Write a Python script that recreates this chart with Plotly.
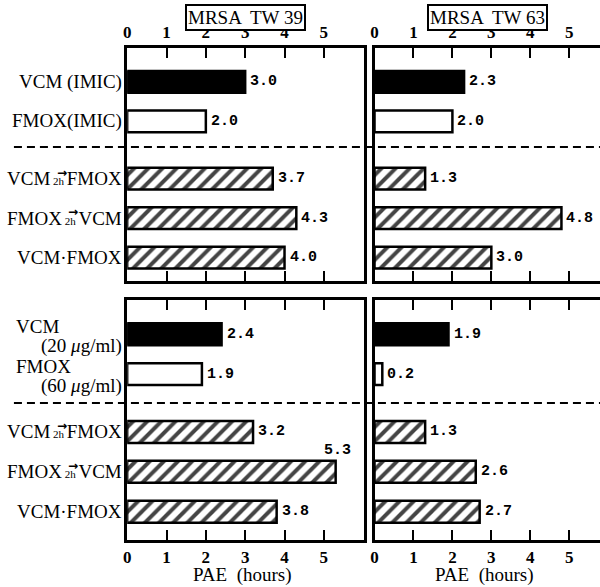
import plotly.graph_objects as go

# ---------------- data ----------------
strains = ["MRSA  TW 39", "MRSA  TW 63"]
top_labels = ["VCM (IMIC)", "FMOX(IMIC)", "VCM→FMOX", "FMOX→VCM", "VCM·FMOX"]
bottom_labels = ["VCM|(20 <i>μ</i>g/ml)", "FMOX|(60 <i>μ</i>g/ml)", "VCM→FMOX", "FMOX→VCM", "VCM·FMOX"]
tw39_top = [3.0, 2.0, 3.7, 4.3, 4.0]
tw63_top = [2.3, 2.0, 1.3, 4.8, 3.0]
tw39_bottom = [2.4, 1.9, 3.2, 5.3, 3.8]
tw63_bottom = [1.9, 0.2, 1.3, 2.6, 2.7]
bar_kinds = ["solid", "open", "hatched", "hatched", "hatched"]
x_ticks = [0, 1, 2, 3, 4, 5]
axis_title = "PAE  (hours)"

# ---------------- layout helpers ----------------
W, H = 600, 587
def px(x):
    return x / W
def py(y):
    return 1 - y / H

GAP = 0.45
pos = [i + (GAP if i >= 2 else 0) for i in range(5)]
dash_y = (pos[1] + pos[2]) / 2

SERIF = "Liberation Serif, Times New Roman, serif"
MONO = "Liberation Mono, Courier New, monospace"

xdom_left = [px(124), px(362)]
xdom_right = [px(373), 1.0]
ydom_top = [py(281), py(48)]
ydom_bot = [py(540), py(300)]
xr_left = [0, 6.01]
xr_right = [0, 5.79]
yr_top = [5.04, -0.86]
yr_bot = [5.16, -0.86]

panels = [
    dict(xa="x", ya="y", vals=tw39_top, labels=top_labels, xd=xdom_left, yd=ydom_top, xr=xr_left, yr=yr_top, left=True, top=True, dshift=-0.08),
    dict(xa="x2", ya="y2", vals=tw63_top, labels=None, xd=xdom_right, yd=ydom_top, xr=xr_right, yr=yr_top, left=False, top=True, dshift=0),
    dict(xa="x3", ya="y3", vals=tw39_bottom, labels=bottom_labels, xd=xdom_left, yd=ydom_bot, xr=xr_left, yr=yr_bot, left=True, top=False, dshift=0),
    dict(xa="x4", ya="y4", vals=tw63_bottom, labels=None, xd=xdom_right, yd=ydom_bot, xr=xr_right, yr=yr_bot, left=False, top=False, dshift=0),
]

fill = {"solid": "black", "open": "white", "hatched": "white"}
shape = {"solid": "", "open": "", "hatched": "/"}

# Times-like character widths (em) for positioning arrow above "2h"
CW = {"F": .556, "M": .889, "O": .722, "X": .722, "V": .722, "C": .667}
def tw(s, size):
    return sum(CW.get(c, .5) for c in s) * size

fig = go.Figure()
annotations = []
shapes = []
LABEL_SIZE = 19
LABEL_RIGHT = 121

for i, p in enumerate(panels):
    fig.add_trace(go.Bar(
        orientation="h", x=p["vals"], y=pos, xaxis=p["xa"], yaxis=p["ya"], width=0.55,
        marker=dict(color=[fill[k] for k in bar_kinds],
                    line=dict(color="black", width=2.5),
                    pattern=dict(shape=[shape[k] for k in bar_kinds], fgcolor="black", fgopacity=1,
                                 bgcolor=[fill[k] for k in bar_kinds], size=10, solidity=0.4)),
        showlegend=False, hoverinfo="skip"))
    xmax = p["xr"][1]
    for v, y in zip(p["vals"], pos):
        txt = f"{v:.1f}"
        if v + 0.75 > xmax:
            annotations.append(dict(x=v, y=y, xref=p["xa"], yref=p["ya"], text=txt, showarrow=False,
                                    xanchor="center", yanchor="bottom", yshift=11, xshift=2,
                                    font=dict(family=MONO, size=15, color="black", weight="bold")))
        else:
            annotations.append(dict(x=v, y=y, xref=p["xa"], yref=p["ya"], text=txt, showarrow=False,
                                    xanchor="left", yanchor="middle", xshift=3,
                                    font=dict(family=MONO, size=15, color="black", weight="bold")))
    # category labels
    if p["labels"]:
        for lab, y in zip(p["labels"], pos):
            f = dict(family=SERIF, size=LABEL_SIZE, color="black")
            if "|" in lab:
                a, b = lab.split("|")
                annotations.append(dict(x=px(10), y=y, xref="paper", yref=p["ya"], text=a, showarrow=False,
                                        xanchor="left", yanchor="middle", yshift=8, font=f))
                annotations.append(dict(x=px(LABEL_RIGHT), y=y, xref="paper", yref=p["ya"], text=b, showarrow=False,
                                        xanchor="right", yanchor="middle", yshift=-12, font=f))
            elif "→" in lab:
                a, b = lab.split("→")
                annotations.append(dict(x=px(LABEL_RIGHT), y=y, xref="paper", yref=p["ya"],
                                        text=f"{a}<span style='font-size:11px'> 2h </span>{b}", showarrow=False,
                                        xanchor="right", yanchor="middle", yshift=0, font=f))
                ax = LABEL_RIGHT - tw(b, LABEL_SIZE) - 8
                annotations.append(dict(x=px(ax), y=y, xref="paper", yref=p["ya"], text="→", showarrow=False,
                                        xanchor="center", yanchor="middle", yshift=6,
                                        font=dict(family="DejaVu Sans", size=12, color="black", weight="bold")))
            else:
                annotations.append(dict(x=px(LABEL_RIGHT), y=y, xref="paper", yref=p["ya"], text=lab, showarrow=False,
                                        xanchor="right", yanchor="middle", font=f))
    # dashed separator
    if p["left"]:
        shapes.append(dict(type="line", xref="paper", yref=p["ya"], x0=px(10), x1=1.0,
                           y0=dash_y + p["dshift"], y1=dash_y + p["dshift"],
                           line=dict(color="black", width=2, dash="8px,5px")))

    xkey = "xaxis" if p["xa"] == "x" else "xaxis" + p["xa"][1:]
    ykey = "yaxis" if p["ya"] == "y" else "yaxis" + p["ya"][1:]
    fig.layout[xkey] = dict(domain=p["xd"], range=p["xr"], anchor=p["ya"], side="top" if p["top"] else "bottom",
                            showline=True, linecolor="black", linewidth=2.5, mirror="ticks",
                            ticks="inside", ticklen=10, tickwidth=2, tickcolor="black",
                            tickvals=x_ticks, showticklabels=True, showgrid=False, zeroline=False,
                            tickfont=dict(family=SERIF, size=17, color="black", weight="bold"),
                            fixedrange=True)
    fig.layout[ykey] = dict(domain=p["yd"], range=p["yr"], anchor=p["xa"], showline=True, linecolor="black",
                            linewidth=2.5, mirror=p["left"], showticklabels=False, ticks="",
                            showgrid=False, zeroline=False, fixedrange=True)

# strain titles
for name, xd in zip(strains, [xdom_left, xdom_right]):
    annotations.append(dict(x=(xd[0] + xd[1]) / 2, y=py(17), xref="paper", yref="paper", text=name,
                            showarrow=False, xanchor="center", yanchor="middle",
                            bordercolor="black", borderwidth=2, borderpad=1, bgcolor="white",
                            font=dict(family=SERIF, size=19, color="black")))
    annotations.append(dict(x=(xd[0] + xd[1]) / 2 - 0.005, y=py(575), xref="paper", yref="paper", text=axis_title,
                            showarrow=False, xanchor="center", yanchor="middle",
                            font=dict(family=SERIF, size=19, color="black")))

fig.update_layout(width=W, height=H, margin=dict(l=0, r=0, t=0, b=0),
                  paper_bgcolor="white", plot_bgcolor="white",
                  annotations=annotations, shapes=shapes, barmode="overlay")
fig.write_html("out.html", config={"displayModeBar": False},
               post_script="document.body.style.margin='0';document.body.style.padding='0';")
